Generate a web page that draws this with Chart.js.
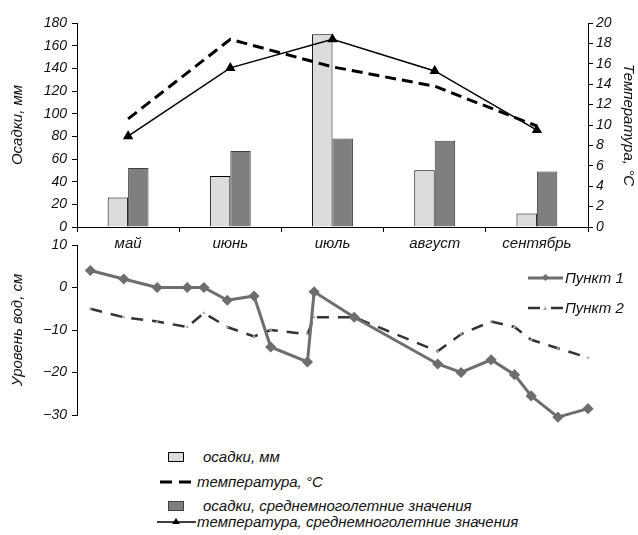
<!DOCTYPE html>
<html>
<head>
<meta charset="utf-8">
<script src="https://cdn.jsdelivr.net/npm/chart.js@4/dist/chart.umd.min.js"></script>
<style>
  body { margin: 0; background: #fff; }
  #wrap { position: relative; width: 638px; height: 535px; font-family: 'Liberation Sans', Arial, sans-serif; font-style: italic; color: #111; }
  canvas { position: absolute; left: 0; }
  .lg { position: absolute; font-size: 15px; line-height: 18px; white-space: nowrap; }
  .lg svg { position: absolute; }
</style>
</head>
<body>
<div id="wrap">
  <canvas id="topChart" width="638" height="260" style="top:0"></canvas>
  <canvas id="levelChart" width="638" height="200" style="top:230px"></canvas>

  <div class="lg" style="left:528px; top:269px; width:100px; height:18px;">
    <svg width="36" height="18" style="left:0;top:0"><line x1="0" y1="9" x2="35" y2="9" stroke="#6e6e6e" stroke-width="3"/><rect x="15" y="6" width="5" height="5" fill="#6e6e6e" transform="rotate(45 17.5 8.5)"/></svg>
    <span style="position:absolute; left:37px; top:0">Пункт 1</span>
  </div>
  <div class="lg" style="left:528px; top:299px; width:100px; height:18px;">
    <svg width="36" height="18" style="left:0;top:0"><line x1="0" y1="9" x2="35" y2="9" stroke="#333" stroke-width="2.5" stroke-dasharray="12 11"/><polygon points="17,7 19,11 15,11" fill="#aaa"/></svg>
    <span style="position:absolute; left:37px; top:0">Пункт 2</span>
  </div>

  <div class="lg" style="left:156px; top:448px;">
    <svg width="40" height="18" style="left:0;top:0"><rect x="12.5" y="4.5" width="15" height="9" fill="#dcdcdc" stroke="#000"/></svg>
    <span style="position:absolute; left:47px; top:0">осадки, мм</span>
  </div>
  <div class="lg" style="left:156px; top:473px;">
    <svg width="40" height="18" style="left:0;top:0"><line x1="4" y1="9" x2="40" y2="9" stroke="#000" stroke-width="3" stroke-dasharray="12 7"/></svg>
    <span style="position:absolute; left:41px; top:0">температура, °С</span>
  </div>
  <div class="lg" style="left:156px; top:497px;">
    <svg width="40" height="18" style="left:0;top:0"><rect x="12.5" y="4.5" width="15" height="9" fill="#7f7f7f" stroke="#3f3f3f"/></svg>
    <span style="position:absolute; left:47px; top:0">осадки, среднемноголетние значения</span>
  </div>
  <div class="lg" style="left:156px; top:513px;">
    <svg width="40" height="18" style="left:0;top:0"><line x1="1" y1="9" x2="40" y2="9" stroke="#000" stroke-width="1.5"/><polygon points="20,5 24,11 16,11" fill="#000"/></svg>
    <span style="position:absolute; left:41px; top:0">температура, среднемноголетние значения</span>
  </div>
</div>

<script>
// top chart: months, precipitation (mm) and temperature (°C)
const months = ["май", "июнь", "июль", "август", "сентябрь"];
const precip = [26, 45, 170, 50, 12];
const precipNorm = [52, 67, 78, 76, 49];
const temp = [10.6, 18.4, 15.7, 13.8, 9.9];
const tempNorm = [8.9, 15.6, 18.4, 15.3, 9.5];

// bottom chart: water level (cm), day counted from 1 May
const days = [4, 14, 24, 33, 38, 45, 53, 58, 69, 71, 83, 108, 115, 124, 131, 136, 144, 153];
const level1 = [4, 2, 0, 0, 0, -3, -2, -14, -17.5, -1, -7, -18, -20, -17, -20.5, -25.5, -30.5, -28.5];
const level2 = [-5, -7, -8, -9.3, -6, -9.3, -11.5, -10, -11, -7, -7, -15, -11, -8, -9.3, -12.3, -14.3, -16.5];

Chart.defaults.font.family = "'Liberation Sans', Arial, sans-serif";
Chart.defaults.font.style = "italic";
Chart.defaults.font.size = 14;
Chart.defaults.color = "#111";

const axisTitleFont = { size: 15, style: "italic" };

new Chart(document.getElementById("topChart"), {
    type: "bar",
    data: {
        labels: months,
        datasets: [
            { label: "температура, °С", type: "line", data: temp, yAxisID: "y2", order: 0,
              borderColor: "#000", borderWidth: 3, borderDash: [11, 6], pointRadius: 0, tension: 0 },
            { label: "температура, среднемноголетние значения", type: "line", data: tempNorm, yAxisID: "y2", order: 0,
              borderColor: "#000", borderWidth: 1.5, pointStyle: "triangle", pointRadius: 4.5,
              pointBackgroundColor: "#000", pointBorderColor: "#000", tension: 0 },
            { label: "осадки, мм", data: precip, yAxisID: "y", order: 1,
              backgroundColor: "#dcdcdc", borderColor: "#000", borderWidth: 1,
              categoryPercentage: 0.4, barPercentage: 1 },
            { label: "осадки, среднемноголетние значения", data: precipNorm, yAxisID: "y", order: 1,
              backgroundColor: "#7f7f7f", borderColor: "#3f3f3f", borderWidth: 1,
              categoryPercentage: 0.4, barPercentage: 1 }
        ]
    },
    options: {
        responsive: false,
        animation: false,
        layout: { padding: { top: 23, left: 0, right: 0, bottom: 0 } },
        plugins: { legend: { display: false }, tooltip: { enabled: false } },
        scales: {
            x: {
                grid: { display: true, drawOnChartArea: false, tickLength: 5, color: "#000", offset: true },
                border: { color: "#000" },
                ticks: { font: { size: 15 }, padding: 3 },
                afterFit: s => { s.height = 33; }
            },
            y: {
                position: "left", min: 0, max: 180,
                ticks: { stepSize: 20, padding: 5 },
                grid: { display: true, drawOnChartArea: false, tickLength: 5, color: "#000" },
                border: { color: "#000" },
                title: { display: true, text: "Осадки, мм", font: axisTitleFont, padding: { top: 9 } },
                afterFit: s => { s.width = 77; }
            },
            y2: {
                position: "right", min: 0, max: 20,
                ticks: { stepSize: 2, padding: 3 },
                grid: { display: true, drawOnChartArea: false, tickLength: 5, color: "#000" },
                border: { color: "#000" },
                title: { display: true, text: "Температура, °С", font: axisTitleFont, padding: { top: 1 } },
                afterFit: s => { s.width = 50; }
            }
        }
    }
});

new Chart(document.getElementById("levelChart"), {
    type: "line",
    data: {
        datasets: [
            { label: "Пункт 1", data: days.map((d, i) => ({ x: d, y: level1[i] })), clip: false,
              borderColor: "#6e6e6e", borderWidth: 3, pointStyle: "rectRot", pointRadius: 3.5,
              pointBackgroundColor: "#6e6e6e", pointBorderColor: "#6e6e6e", tension: 0 },
            { label: "Пункт 2", data: days.map((d, i) => ({ x: d, y: level2[i] })), clip: false,
              borderColor: "#333", borderWidth: 2.5, borderDash: [12, 9], pointStyle: "triangle", pointRadius: 2,
              pointBackgroundColor: "#aaa", pointBorderColor: "#aaa", pointBorderWidth: 0, tension: 0 }
        ]
    },
    options: {
        responsive: false,
        animation: false,
        layout: { padding: { top: 15, bottom: 15, left: 0, right: 50 } },
        plugins: { legend: { display: false }, tooltip: { enabled: false } },
        scales: {
            x: { type: "linear", min: 0, max: 153, display: false },
            y: {
                min: -30, max: 10,
                ticks: { stepSize: 10, padding: 5, callback: v => String(v).replace("-", "\u2212") },
                grid: { display: true, drawOnChartArea: false, tickLength: 5, color: "#000" },
                border: { color: "#000" },
                title: { display: true, text: "Уровень вод, см", font: axisTitleFont, padding: { top: 9 } },
                afterFit: s => { s.width = 77; }
            }
        }
    }
});
</script>
</body>
</html>
